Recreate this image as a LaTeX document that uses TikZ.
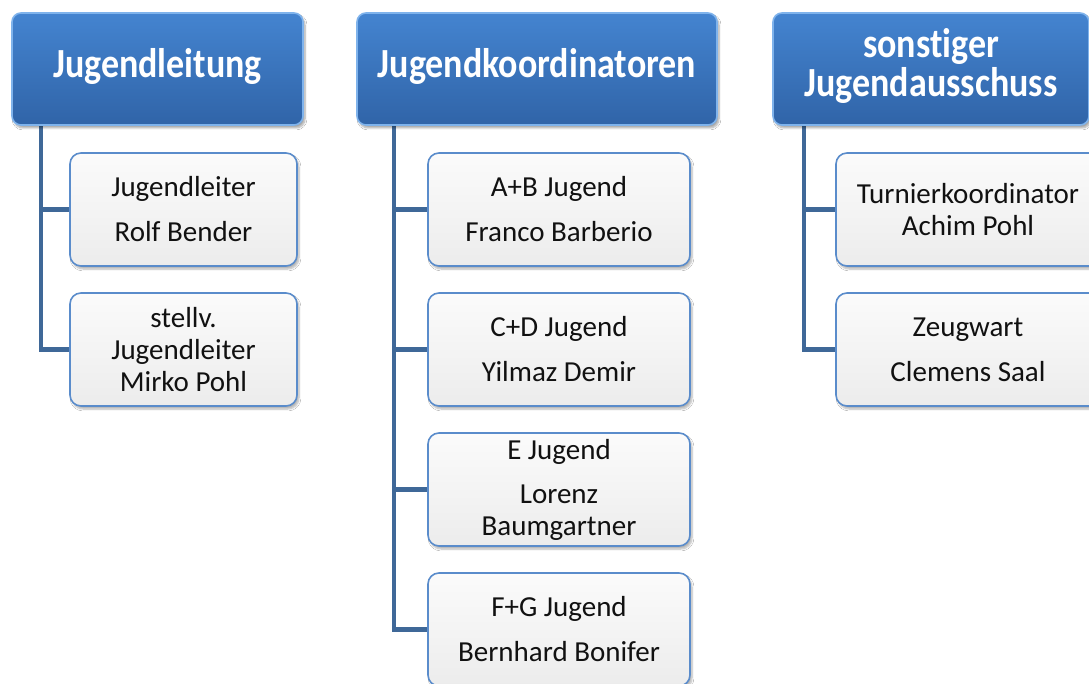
\documentclass[tikz,border=0pt]{standalone}
\usepackage{fontspec}
\setmainfont{Carlito}[Ligatures={NoCommon,NoContextual}]
\usetikzlibrary{shadows.blur}
\definecolor{hdtop}{HTML}{4484D0}
\definecolor{hdbot}{HTML}{3064A8}
\definecolor{hdedge}{HTML}{7FB3EC}
\definecolor{chedge}{HTML}{5A8CCB}
\definecolor{chtop}{HTML}{FBFBFB}
\definecolor{chbot}{HTML}{ECECEC}
\definecolor{conn}{HTML}{3F6898}
\definecolor{txt}{HTML}{111111}
\pgfdeclarelayer{bg}
\pgfsetlayers{bg,main}
\newcommand{\hdtext}[1]{\scalebox{1}[1.15]{\begin{tabular}{@{}c@{}}#1\end{tabular}}}
\tikzset{
  hdbox/.style={rectangle, rounded corners=9pt, top color=hdtop, bottom color=hdbot,
    draw=hdedge, line width=1.6pt, minimum height=112pt, inner sep=0pt,
    text=white, align=center, font=\fontsize{36}{36}\selectfont\bfseries,
    blur shadow={shadow xshift=2pt, shadow yshift=-3pt, shadow blur steps=6, shadow opacity=35}},
  chbox/.style={rectangle, rounded corners=11pt, top color=chtop, bottom color=chbot,
    draw=chedge, line width=1.6pt, minimum height=113pt, inner sep=0pt,
    text=txt, align=center, font=\fontsize{29}{32}\selectfont,
    blur shadow={shadow xshift=2pt, shadow yshift=-3pt, shadow blur steps=6, shadow opacity=30}},
  link/.style={draw=conn, line width=4.5pt}
}
\begin{document}
\begin{tikzpicture}[x=1pt, y=-1pt]
\useasboundingbox (0,0) rectangle (1089,684);

% headers
\node[hdbox, minimum width=291pt] (h1) at (157.5,69) {\hdtext{Jugendleitung}};
\node[hdbox, minimum width=360pt] (h2) at (537,69) {\hdtext{Jugendkoordinatoren}};
\node[hdbox, minimum width=316pt] (h3) at (931,69) {\hdtext{sonst\kern0pt iger\\[-2pt]Jugendausschuss}};

% children column 1
\node[chbox, minimum width=227pt] (c1a) at (183.5,209.5) {Jugendleiter\\[13pt]Rolf Bender};
\node[chbox, minimum width=227pt] (c1b) at (183.5,349.5) {stellv.\\Jugendleiter\\Mirko Pohl};

% children column 2
\node[chbox, minimum width=262pt] (c2a) at (559,209.5) {A+B Jugend\\[13pt]Franco Barberio};
\node[chbox, minimum width=262pt] (c2b) at (559,349.5) {C+D Jugend\\[13pt]Yilmaz Demir};
\node[chbox, minimum width=262pt] (c2c) at (559,489.5) {E Jugend\\[12pt]Lorenz\\Baumgartner};
\node[chbox, minimum width=262pt] (c2d) at (559,629.5) {F+G Jugend\\[13pt]Bernhard Bonifer};

% children column 3
\node[chbox, minimum width=264pt] (c3a) at (968,209.5) {Turnierkoordinator\\Achim Pohl};
\node[chbox, minimum width=264pt] (c3b) at (968,349.5) {Zeugwart\\[13pt]Clemens Saal};

% connectors
\coordinate (s1) at ([xshift=30pt]h1.south west);
\coordinate (s2) at ([xshift=38pt]h2.south west);
\coordinate (s3) at ([xshift=32pt]h3.south west);
\begin{pgfonlayer}{bg}
\fill[white] (0,0) rectangle (1089,684);
\draw[link] (s1) |- (c1a.west);
\draw[link] (s1) |- (c1b.west);
\draw[link] (s2) |- (c2a.west);
\draw[link] (s2) |- (c2b.west);
\draw[link] (s2) |- (c2c.west);
\draw[link] (s2) |- (c2d.west);
\draw[link] (s3) |- (c3a.west);
\draw[link] (s3) |- (c3b.west);
\end{pgfonlayer}
\end{tikzpicture}
\end{document}
